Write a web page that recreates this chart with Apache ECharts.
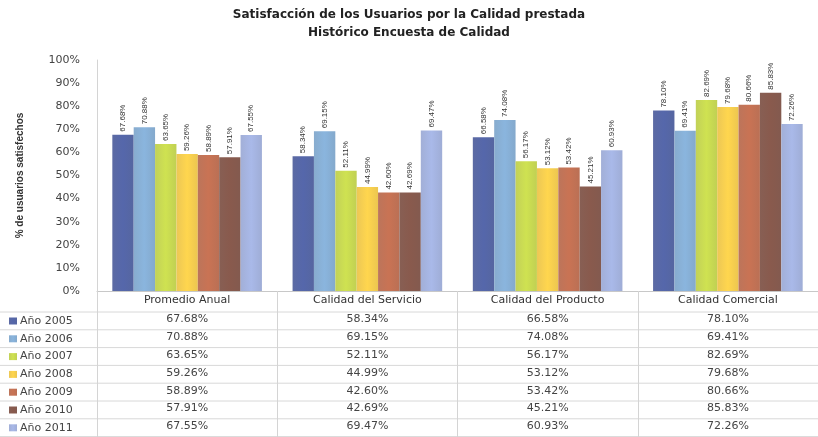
<!DOCTYPE html>
<html>
<head>
<meta charset="utf-8">
<script src="https://cdn.jsdelivr.net/npm/echarts@6/dist/echarts.min.js"></script>
<style>
html, body { margin: 0; padding: 0; background: #fff; overflow: hidden; }
#chart { width: 818px; height: 437px; }
</style>
</head>
<body>
<div id="chart"></div>
<script>
// categorías y valores (%)
var categories = ["Promedio Anual", "Calidad del Servicio", "Calidad del Producto", "Calidad Comercial"];
var years = ["Año 2005", "Año 2006", "Año 2007", "Año 2008", "Año 2009", "Año 2010", "Año 2011"];
var y2005 = [67.68, 58.34, 66.58, 78.10];
var y2006 = [70.88, 69.15, 74.08, 69.41];
var y2007 = [63.65, 52.11, 56.17, 82.69];
var y2008 = [59.26, 44.99, 53.12, 79.68];
var y2009 = [58.89, 42.60, 53.42, 80.66];
var y2010 = [57.91, 42.69, 45.21, 85.83];
var y2011 = [67.55, 69.47, 60.93, 72.26];
var yearValues = [y2005, y2006, y2007, y2008, y2009, y2010, y2011];
var colors = ["#4e5e9c", "#7ea5ca", "#bdce4a", "#ebc347", "#b7694d", "#7d5246", "#9aa9d4"];

var myChart = echarts.init(document.getElementById("chart"));

var plotBottom = 146;   // espacio de la tabla bajo el gráfico
var rowTop = 312;       // primera línea de la tabla
var rowH = 17.8;
var font = "DejaVu Sans";

function fmt(v) {
    return v.toFixed(2) + "%";
}

// ejes x: el primero con las categorías, los demás con las filas de la tabla
var xAxes = [{
    type: "category",
    data: categories,
    axisLine: { lineStyle: { color: "#c8c8c8" } },
    axisTick: { show: true, length: plotBottom, lineStyle: { color: "#d4d4d4" } },
    axisLabel: { margin: 4, fontFamily: font, fontSize: 11, color: "#333" }
}];
yearValues.forEach(function (arr, i) {
    xAxes.push({
        type: "category",
        position: "bottom",
        data: arr.map(fmt),
        offset: rowTop - (437 - plotBottom) + rowH * i + 2,
        axisLine: { show: false },
        axisTick: { show: false },
        splitLine: { show: false },
        axisLabel: { margin: 0, fontFamily: font, fontSize: 11, color: "#444" }
    });
});

var series = years.map(function (name, i) {
    var c = colors[i];
    return {
        name: name,
        type: "bar",
        data: yearValues[i],
        barGap: "0%",
        barCategoryGap: "17%",
        itemStyle: {
            color: new echarts.graphic.LinearGradient(0, 0, 1, 0, [
                { offset: 0, color: echarts.color.lift(c, 0.08) },
                { offset: 0.5, color: echarts.color.lift(c, -0.1) },
                { offset: 1, color: echarts.color.lift(c, 0.05) }
            ])
        },
        label: {
            show: true,
            position: "top",
            rotate: 90,
            align: "left",
            verticalAlign: "middle",
            distance: 3,
            fontFamily: "Liberation Sans Narrow, Liberation Sans",
            fontSize: 8,
            color: "#333",
            formatter: function (p) { return fmt(p.value); }
        }
    };
});

// líneas horizontales de la tabla
var lines = [];
for (var k = 0; k < 8; k++) {
    lines.push({
        type: "line",
        shape: { x1: 0, y1: rowTop + rowH * k, x2: 818, y2: rowTop + rowH * k },
        style: { stroke: "#d8d8d8", lineWidth: 1 },
        silent: true
    });
}

myChart.setOption({
    animation: false,
    color: colors,
    title: {
        text: "Satisfacción de los Usuarios por la Calidad prestada\nHistórico Encuesta de Calidad",
        left: "center",
        top: 1,
        textStyle: { fontFamily: font, fontSize: 12, fontWeight: "bold", color: "#222", lineHeight: 18 }
    },
    legend: {
        data: years,
        orient: "vertical",
        left: 9,
        top: rowTop + 2,
        padding: 0,
        height: 125,
        icon: "rect",
        itemWidth: 8,
        itemHeight: 7,
        itemGap: 3.8,
        textStyle: { fontFamily: font, fontSize: 11, color: "#444", lineHeight: 14, padding: [0, 0, 0, -2] }
    },
    grid: {
        left: 97,
        right: -15,
        top: 60,
        bottom: plotBottom,
        containLabel: false
    },
    xAxis: xAxes,
    yAxis: {
        type: "value",
        min: 0,
        max: 100,
        interval: 10,
        name: "% de usuarios satisfechos",
        nameLocation: "middle",
        nameGap: 72,
        nameTextStyle: { fontFamily: "Liberation Sans", fontSize: 10, fontWeight: "bold", color: "#333" },
        axisLine: { show: true, lineStyle: { color: "#d4d4d4" } },
        axisTick: { show: false },
        splitLine: { show: false },
        axisLabel: { margin: 17, fontFamily: font, fontSize: 11, color: "#444", formatter: "{value}%" }
    },
    graphic: lines,
    series: series
});
</script>
</body>
</html>
